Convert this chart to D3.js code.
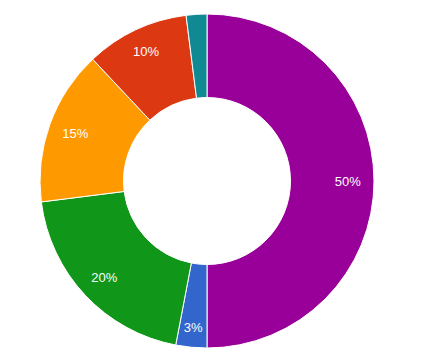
<!DOCTYPE html>
<html>
<head>
<meta charset="utf-8">
<script src="https://cdn.jsdelivr.net/npm/d3@7"></script>
<style>
html,body{margin:0;padding:0;background:#fff;}
svg{display:block;}
</style>
</head>
<body>
<svg id="chart" width="443" height="362"></svg>
<script>
const categories = ["A", "B", "C", "D", "E", "F"];
const values = [50, 3, 20, 15, 10, 2];
const labels = ["50%", "3%", "20%", "15%", "10%", ""];
const colors = ["#990099", "#3366cc", "#109618", "#ff9900", "#dc3912", "#0f8a93"];

const svg = d3.select("#chart");
const cx = 207, cy = 181, outerR = 167, innerR = 83.5, fontSize = 13, labelPad = 13.7;

const pie = d3.pie().value(d => d.v).sort(null);
const data = pie(categories.map((c, i) => ({c, v: values[i], i})));
const arc = d3.arc().innerRadius(innerR).outerRadius(outerR);
const color = d3.scaleOrdinal().domain(categories).range(colors);

const g = svg.append("g").attr("transform", `translate(${cx},${cy})`);
g.selectAll("path").data(data).enter().append("path")
  .attr("d", arc)
  .attr("fill", d => color(d.data.c))
  .attr("stroke", "#fff")
  .attr("stroke-width", 1);

const texts = g.selectAll("text").data(data).enter().append("text")
  .attr("text-anchor", "middle")
  .attr("dy", "0.36em")
  .attr("fill", "#fff")
  .attr("font-family", "Arial, 'Liberation Sans', sans-serif")
  .attr("font-size", fontSize)
  .text((d, i) => labels[i]);

// Push each label outward until its far corner sits labelPad inside the outer edge
texts.attr("transform", function(d) {
  const w = this.getComputedTextLength() - 1;
  const hw = w / 2, hh = fontSize * 0.37;
  const a = (d.startAngle + d.endAngle) / 2;
  const ux = Math.sin(a), uy = -Math.cos(a);
  const c = [Math.sign(ux) * hw, Math.sign(uy) * hh];
  const R = outerR - labelPad;
  const uc = ux * c[0] + uy * c[1];
  const r = -uc + Math.sqrt(uc * uc - (c[0] * c[0] + c[1] * c[1]) + R * R);
  return `translate(${r * ux},${r * uy})`;
});
</script>
</body>
</html>
